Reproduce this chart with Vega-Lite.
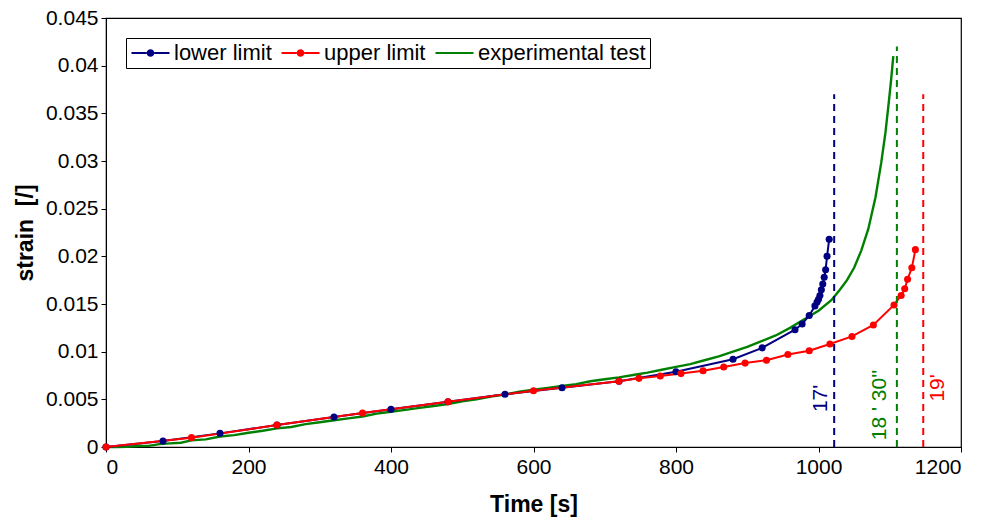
{
  "$schema": "https://vega.github.io/schema/vega-lite/v6.json",
  "width": 855,
  "height": 429,
  "autosize": {"type": "none"},
  "padding": {"left": 106, "top": 18, "right": 23, "bottom": 84},
  "background": "white",
  "config": {
    "font": "Liberation Sans",
    "view": {"stroke": "black", "strokeWidth": 1.2},
    "axis": {"grid": false, "domainColor": "black", "tickColor": "black", "labelColor": "black", "titleColor": "black", "labelFontSize": 21, "titleFontSize": 23, "titleFontWeight": "bold", "tickSize": 5, "labelFont": "Liberation Sans", "titleFont": "Liberation Sans"}
  },
  "datasets": {
    "curves": [
      {"series": "lower limit", "t": 0, "s": 0},
      {"series": "lower limit", "t": 80, "s": 0.00062},
      {"series": "lower limit", "t": 160, "s": 0.00143},
      {"series": "lower limit", "t": 240, "s": 0.0023},
      {"series": "lower limit", "t": 320, "s": 0.00315},
      {"series": "lower limit", "t": 400, "s": 0.00395},
      {"series": "lower limit", "t": 480, "s": 0.00475},
      {"series": "lower limit", "t": 560, "s": 0.00553},
      {"series": "lower limit", "t": 640, "s": 0.00622},
      {"series": "lower limit", "t": 720, "s": 0.0069},
      {"series": "lower limit", "t": 800, "s": 0.0079},
      {"series": "lower limit", "t": 880, "s": 0.0092},
      {"series": "lower limit", "t": 921, "s": 0.0104},
      {"series": "lower limit", "t": 967, "s": 0.0123},
      {"series": "lower limit", "t": 977, "s": 0.0129},
      {"series": "lower limit", "t": 987, "s": 0.0138},
      {"series": "lower limit", "t": 995, "s": 0.0148},
      {"series": "lower limit", "t": 998, "s": 0.0152},
      {"series": "lower limit", "t": 1000, "s": 0.0155},
      {"series": "lower limit", "t": 1002, "s": 0.0159},
      {"series": "lower limit", "t": 1004, "s": 0.0165},
      {"series": "lower limit", "t": 1006, "s": 0.0171},
      {"series": "lower limit", "t": 1008, "s": 0.0178},
      {"series": "lower limit", "t": 1010, "s": 0.0186},
      {"series": "lower limit", "t": 1012, "s": 0.0200},
      {"series": "lower limit", "t": 1015, "s": 0.0218},
      {"series": "upper limit", "t": 0, "s": 0},
      {"series": "upper limit", "t": 120, "s": 0.00098},
      {"series": "upper limit", "t": 240, "s": 0.0023},
      {"series": "upper limit", "t": 360, "s": 0.00357},
      {"series": "upper limit", "t": 480, "s": 0.00475},
      {"series": "upper limit", "t": 600, "s": 0.0059},
      {"series": "upper limit", "t": 720, "s": 0.0069},
      {"series": "upper limit", "t": 748, "s": 0.0072},
      {"series": "upper limit", "t": 778, "s": 0.00745},
      {"series": "upper limit", "t": 807, "s": 0.0077},
      {"series": "upper limit", "t": 838, "s": 0.0080},
      {"series": "upper limit", "t": 867, "s": 0.0084},
      {"series": "upper limit", "t": 897, "s": 0.0088},
      {"series": "upper limit", "t": 927, "s": 0.0091},
      {"series": "upper limit", "t": 957, "s": 0.0097},
      {"series": "upper limit", "t": 987, "s": 0.0101},
      {"series": "upper limit", "t": 1016, "s": 0.0108},
      {"series": "upper limit", "t": 1047, "s": 0.0116},
      {"series": "upper limit", "t": 1077, "s": 0.0128},
      {"series": "upper limit", "t": 1106, "s": 0.0149},
      {"series": "upper limit", "t": 1116, "s": 0.0159},
      {"series": "upper limit", "t": 1121, "s": 0.0166},
      {"series": "upper limit", "t": 1125, "s": 0.0176},
      {"series": "upper limit", "t": 1131, "s": 0.0188},
      {"series": "upper limit", "t": 1136, "s": 0.0207},
      {"series": "experimental test", "t": 0, "s": 0},
      {"series": "experimental test", "t": 15, "s": 0.0},
      {"series": "experimental test", "t": 30, "s": 0.00002},
      {"series": "experimental test", "t": 45, "s": 0.0001},
      {"series": "experimental test", "t": 60, "s": 0.00012},
      {"series": "experimental test", "t": 75, "s": 0.0003},
      {"series": "experimental test", "t": 90, "s": 0.00038},
      {"series": "experimental test", "t": 105, "s": 0.00045},
      {"series": "experimental test", "t": 120, "s": 0.0007},
      {"series": "experimental test", "t": 140, "s": 0.0008},
      {"series": "experimental test", "t": 160, "s": 0.0011},
      {"series": "experimental test", "t": 180, "s": 0.00125},
      {"series": "experimental test", "t": 200, "s": 0.0015},
      {"series": "experimental test", "t": 220, "s": 0.0017},
      {"series": "experimental test", "t": 240, "s": 0.00195},
      {"series": "experimental test", "t": 260, "s": 0.0021},
      {"series": "experimental test", "t": 280, "s": 0.0024},
      {"series": "experimental test", "t": 300, "s": 0.0026},
      {"series": "experimental test", "t": 320, "s": 0.0028},
      {"series": "experimental test", "t": 340, "s": 0.0030},
      {"series": "experimental test", "t": 360, "s": 0.0032},
      {"series": "experimental test", "t": 380, "s": 0.0035},
      {"series": "experimental test", "t": 400, "s": 0.0037},
      {"series": "experimental test", "t": 420, "s": 0.0039},
      {"series": "experimental test", "t": 440, "s": 0.0041},
      {"series": "experimental test", "t": 460, "s": 0.0043},
      {"series": "experimental test", "t": 480, "s": 0.0045},
      {"series": "experimental test", "t": 500, "s": 0.0048},
      {"series": "experimental test", "t": 520, "s": 0.0050},
      {"series": "experimental test", "t": 540, "s": 0.0053},
      {"series": "experimental test", "t": 560, "s": 0.0055},
      {"series": "experimental test", "t": 580, "s": 0.0058},
      {"series": "experimental test", "t": 600, "s": 0.0060},
      {"series": "experimental test", "t": 620, "s": 0.0062},
      {"series": "experimental test", "t": 640, "s": 0.0064},
      {"series": "experimental test", "t": 660, "s": 0.0066},
      {"series": "experimental test", "t": 680, "s": 0.0069},
      {"series": "experimental test", "t": 700, "s": 0.0071},
      {"series": "experimental test", "t": 720, "s": 0.0073},
      {"series": "experimental test", "t": 740, "s": 0.00755},
      {"series": "experimental test", "t": 760, "s": 0.0078},
      {"series": "experimental test", "t": 780, "s": 0.0081},
      {"series": "experimental test", "t": 800, "s": 0.0084},
      {"series": "experimental test", "t": 820, "s": 0.0087},
      {"series": "experimental test", "t": 840, "s": 0.0091},
      {"series": "experimental test", "t": 860, "s": 0.0095},
      {"series": "experimental test", "t": 880, "s": 0.0100},
      {"series": "experimental test", "t": 900, "s": 0.0105},
      {"series": "experimental test", "t": 920, "s": 0.0111},
      {"series": "experimental test", "t": 940, "s": 0.0117},
      {"series": "experimental test", "t": 960, "s": 0.0125},
      {"series": "experimental test", "t": 980, "s": 0.0134},
      {"series": "experimental test", "t": 1000, "s": 0.0143},
      {"series": "experimental test", "t": 1018, "s": 0.0154},
      {"series": "experimental test", "t": 1030, "s": 0.0165},
      {"series": "experimental test", "t": 1040, "s": 0.0175},
      {"series": "experimental test", "t": 1050, "s": 0.0188},
      {"series": "experimental test", "t": 1060, "s": 0.0206},
      {"series": "experimental test", "t": 1070, "s": 0.0229},
      {"series": "experimental test", "t": 1080, "s": 0.0262},
      {"series": "experimental test", "t": 1088, "s": 0.0298},
      {"series": "experimental test", "t": 1094, "s": 0.0330},
      {"series": "experimental test", "t": 1099, "s": 0.0364},
      {"series": "experimental test", "t": 1102, "s": 0.0386},
      {"series": "experimental test", "t": 1105, "s": 0.0410}
    ],
    "limits": [
      {"series": "lower limit", "t": 1022, "bottom": 0, "top": 0.037},
      {"series": "experimental test", "t": 1110, "bottom": 0, "top": 0.042},
      {"series": "upper limit", "t": 1147, "bottom": 0, "top": 0.037}
    ],
    "labels": [
      {"series": "lower limit", "t": 1003, "s": 0.0051, "label": "17'"},
      {"series": "experimental test", "t": 1086, "s": 0.0044, "label": "18 ' 30''"},
      {"series": "upper limit", "t": 1168, "s": 0.0062, "label": "19'"}
    ]
  },
  "layer": [
    {
      "data": {"name": "curves"},
      "transform": [{"filter": "datum.series == 'experimental test'"}],
      "mark": {"type": "line", "strokeWidth": 2.4},
      "encoding": {
        "x": {"field": "t", "type": "quantitative", "scale": {"domain": [0, 1200], "nice": false}, "axis": {"title": "Time [s]", "values": [0, 200, 400, 600, 800, 1000, 1200], "format": "d", "labelPadding": 4, "titlePadding": 16}},
        "y": {"field": "s", "type": "quantitative", "scale": {"domain": [0, 0.045], "nice": false}, "axis": {"title": "strain\u00a0 [/]", "values": [0, 0.005, 0.01, 0.015, 0.02, 0.025, 0.03, 0.035, 0.04, 0.045], "format": "~f", "labelPadding": 3, "titlePadding": 8}},
        "color": {
          "field": "series", "type": "nominal",
          "scale": {"domain": ["lower limit", "upper limit", "experimental test"], "range": ["#000080", "#ff0000", "#008000"]},
          "legend": {
            "title": null, "orient": "top-left", "direction": "horizontal", "offset": 20,
            "strokeColor": "black", "fillColor": "white", "padding": 4, "cornerRadius": 0,
            "labelFontSize": 22, "labelFont": "Liberation Sans", "labelColor": "black", "labelOffset": 22, "labelLimit": 0,
            "columnPadding": 8, "symbolSize": 361,
            "symbolType": "M-1,-0.1L0.6,-0.1L0.6,0.1L-1,0.1Z M1.4,-0.1L3,-0.1L3,0.1L1.4,0.1Z M0.6,0A0.4,0.4 0 1,1 1.4,0A0.4,0.4 0 1,1 0.6,0Z",
            "symbolStrokeWidth": 0,
            "encode": {
              "symbols": {
                "update": {
                  "shape": {"signal": "datum.value == 'experimental test' ? 'M-1,-0.1L3,-0.1L3,0.1L-1,0.1Z' : 'M-1,-0.1L0.6,-0.1L0.6,0.1L-1,0.1Z M1.4,-0.1L3,-0.1L3,0.1L1.4,0.1Z M0.6,0A0.4,0.4 0 1,1 1.4,0A0.4,0.4 0 1,1 0.6,0Z'"},
                  "fill": {"signal": "scale('color', datum.value)"},
                  "fillOpacity": {"value": 1},
                  "strokeWidth": {"value": 0}
                }
              }
            }
          }
        }
      }
    },
    {
      "data": {"name": "curves"},
      "transform": [{"filter": "datum.series != 'experimental test'"}],
      "mark": {"type": "line", "strokeWidth": 2, "point": {"filled": true, "size": 50}},
      "encoding": {
        "x": {"field": "t", "type": "quantitative"},
        "y": {"field": "s", "type": "quantitative"},
        "color": {"field": "series", "type": "nominal"}
      }
    },
    {
      "data": {"name": "limits"},
      "mark": {"type": "rule", "strokeWidth": 2, "strokeDash": [7, 5]},
      "encoding": {
        "x": {"field": "t", "type": "quantitative"},
        "y": {"field": "bottom", "type": "quantitative"},
        "y2": {"field": "top"},
        "color": {"field": "series", "type": "nominal"}
      }
    },
    {
      "data": {"name": "labels"},
      "mark": {"type": "text", "angle": 270, "fontSize": 21, "align": "center", "baseline": "middle", "font": "Liberation Sans"},
      "encoding": {
        "x": {"field": "t", "type": "quantitative"},
        "y": {"field": "s", "type": "quantitative"},
        "text": {"field": "label"},
        "color": {"field": "series", "type": "nominal"}
      }
    }
  ]
}
